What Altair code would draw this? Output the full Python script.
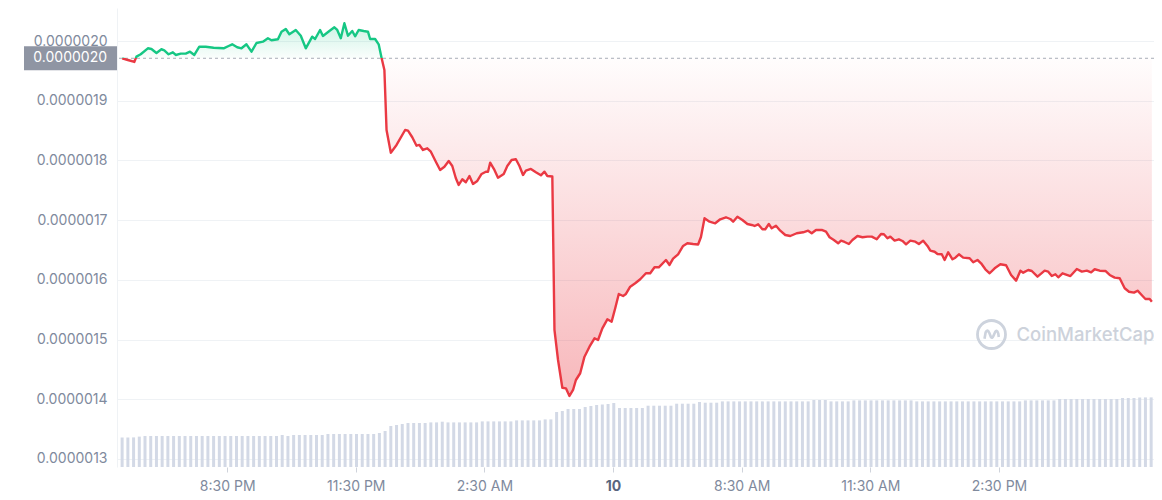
import json
import altair as alt
import pandas as pd

# ---------------- data ----------------
# Price line: minutes after 6:00 PM (local) and price in units of 1e-7 USD
PRICE_MIN = [
    3, 11, 20, 23, 29, 39, 44, 51, 58, 62, 68, 74, 78, 85, 92, 98, 104, 111, 120, 131,
    145, 152, 157, 164, 170, 177, 184, 191, 200, 207, 212, 221, 226, 232, 237, 246, 253, 260, 269, 273,
    280, 284, 293, 300, 304, 309, 314, 319, 325, 329, 334, 341, 347, 350, 357, 362, 366, 370,
    373, 379, 387, 399, 403, 409, 415, 419, 424, 430, 435, 442, 448, 454, 460, 465, 470, 474, 479, 484,
    489, 494, 500, 506, 512, 515, 518, 524, 529, 537, 542, 548, 554, 559, 564, 568, 575, 582, 589, 594,
    598, 605,
    608, 613, 619, 624, 629, 634, 638, 644, 650, 657, 664, 669, 675, 682, 688, 693, 698, 704, 708, 714,
    721, 728, 736, 742, 748, 754, 764, 769, 774, 781, 788, 794, 802, 809, 813, 818,
    825, 833, 840, 848, 854, 858, 864, 871, 878, 884, 888, 893, 899, 903, 908, 912, 918, 924, 931, 938,
    947, 956, 963, 968, 974, 982, 988, 993, 999, 1005, 1009, 1014, 1020, 1025, 1032, 1039, 1046, 1052, 1059, 1065,
    1069, 1074, 1078, 1084, 1090, 1095, 1100, 1106, 1113, 1118, 1124, 1130, 1134, 1140, 1144, 1150, 1154, 1159, 1165, 1169,
    1174, 1180, 1189, 1194, 1200, 1205, 1211, 1217, 1224, 1232, 1240, 1247, 1254, 1260, 1264, 1271, 1276, 1284, 1294, 1299,
    1304, 1309, 1313, 1319, 1330, 1339, 1346, 1353, 1359, 1364, 1371, 1379, 1385, 1392, 1399, 1406, 1412, 1419, 1424, 1431,
    1435, 1441, 1444,
]
PRICE_E7 = [
    19.71, 19.683, 19.650, 19.739, 19.779, 19.879, 19.868, 19.801, 19.863, 19.846,
    19.779, 19.812, 19.767, 19.789, 19.789, 19.822, 19.767, 19.906, 19.906, 19.889,
    19.879, 19.918, 19.946, 19.896, 19.879, 19.946, 19.822, 19.968, 19.990, 20.047,
    20.013, 20.030, 20.157, 20.203, 20.114, 20.186, 20.090, 19.879, 20.074, 20.035,
    20.186, 20.085, 20.169, 20.231, 20.186, 20.047, 20.298, 20.090, 20.169, 20.080,
    20.186, 20.169, 20.157, 20.035, 20.035, 19.946, 19.722, 19.516,
    18.511, 18.131, 18.260, 18.511, 18.499, 18.389, 18.248, 18.260, 18.176, 18.204,
    18.147, 17.980, 17.841, 17.896, 17.992, 17.908, 17.702, 17.590, 17.685, 17.635,
    17.740, 17.606, 17.657, 17.774, 17.812, 17.812, 17.963, 17.841, 17.712, 17.774,
    17.908, 18.008, 18.020, 17.908, 17.757, 17.829, 17.858, 17.802, 17.752, 17.812,
    17.740, 17.732,
    15.161, 14.658, 14.194, 14.184, 14.055, 14.156, 14.323, 14.436, 14.714, 14.881,
    15.022, 14.993, 15.189, 15.340, 15.300, 15.524, 15.764, 15.730, 15.764, 15.886,
    15.943, 16.010, 16.111, 16.111, 16.211, 16.211, 16.333, 16.250, 16.355, 16.429,
    16.568, 16.613, 16.601, 16.593, 16.719, 17.032,
    16.975, 16.948, 17.015, 17.049, 17.020, 16.975, 17.059, 17.003, 16.936, 16.920,
    16.903, 16.931, 16.848, 16.848, 16.936, 16.864, 16.908, 16.824, 16.752, 16.735,
    16.781, 16.797, 16.824, 16.781, 16.836, 16.836, 16.807, 16.714, 16.668, 16.613,
    16.657, 16.635, 16.601, 16.668, 16.735, 16.714, 16.724, 16.724, 16.680, 16.769,
    16.764, 16.697, 16.724, 16.657, 16.680, 16.652, 16.596, 16.657, 16.640, 16.601,
    16.657, 16.568, 16.489, 16.472, 16.434, 16.429, 16.333, 16.462, 16.345, 16.372,
    16.429, 16.372, 16.362, 16.295, 16.333, 16.278, 16.178, 16.111, 16.194, 16.261,
    16.245, 16.082, 15.987, 16.154, 16.121, 16.166, 16.149, 16.054, 16.154, 16.138,
    16.065, 16.094, 16.044, 16.111, 16.065, 16.183, 16.138, 16.154, 16.127, 16.178,
    16.154, 16.149, 16.082, 16.037, 16.027, 15.859, 15.802, 15.786, 15.819, 15.730,
    15.680, 15.680, 15.635,
]
BASE_E7 = 19.712  # reference price (dashed line)

# Volume bars: one every 8 minutes, arbitrary units
VOL_MIN = list(range(3, 1444, 8))
VOLUME = [
    295, 295, 296, 304,
    310, 310, 310, 310, 310, 310, 310, 310, 310, 310, 310, 310,
    310, 310, 310, 310, 310, 310, 310, 310, 310, 310, 310, 310,
    320, 310,
    320, 320, 320, 320, 320, 320,
    330, 330, 330, 330, 330, 330, 330, 330, 330,
    340, 360, 410, 420, 430,
    440, 440, 440, 440,
    446, 446, 453,
    446, 446, 446, 446, 446, 446,
    456, 456, 456, 456, 456, 456,
    466, 466, 466, 466, 466,
    476, 476, 550, 560,
    580, 580, 580,
    600, 610, 620, 625, 630, 640,
    590, 590, 590, 590, 590,
    613, 613, 613, 613, 613,
    633, 633, 633, 633,
    650, 643, 643, 643,
    656, 656, 656, 656, 656, 656, 656, 656, 656, 656, 656, 656, 656, 656, 656, 656,
    670, 670, 670,
    656, 656, 656, 656,
    666, 666, 666, 666, 666, 666, 666, 666, 666, 666, 666,
    656, 656, 656, 656, 656, 656, 656, 656, 656, 656, 656, 656, 656, 656, 656, 656, 656, 656, 656,
    666, 666, 666, 666, 666, 666,
    680, 680, 680, 680, 680, 680, 680, 680, 680, 680, 680,
    690, 690, 690,
    696, 696, 696,
]

TICK_MIN = [150, 330, 510, 690, 870, 1050, 1230]
TICK_LABELS = ["8:30 PM", "11:30 PM", "2:30 AM", "10", "8:30 AM", "11:30 AM", "2:30 PM"]
Y_TICKS_E7 = [13, 14, 15, 16, 17, 18, 19, 20]

assert len(PRICE_MIN) == len(PRICE_E7)
assert len(VOL_MIN) == len(VOLUME)

# ---------------- build tables ----------------
price = [v * 1e-7 for v in PRICE_E7]
base = BASE_E7 * 1e-7
y_ticks = [v * 1e-7 for v in Y_TICKS_E7]

df = pd.DataFrame({"min": PRICE_MIN, "price": price})
vol_df = pd.DataFrame({"min": VOL_MIN, "vol": VOLUME})
base_df = pd.DataFrame({"base": [base], "label": [f"{base:.7f}"]})
wm_df = pd.DataFrame({"t": ["CoinMarketCap"]})

pmax, pmin = max(price), min(price)
frac = (pmax - base) / (pmax - pmin)

GREEN = "#16c784"
RED = "#ea3943"
FONT = "Inter"

W, H = 1037, 459
xscale = alt.Scale(domain=[2.8, 1440], nice=False, zero=False)
yscale = alt.Scale(domain=[1.2866e-6, 2.0554e-6], nice=False, zero=False)

label_expr = f"{json.dumps(TICK_LABELS)}[indexof({json.dumps(TICK_MIN)}, datum.value)]"
x_axis = alt.Axis(
    values=TICK_MIN, labelExpr=label_expr, title=None, grid=False, domain=False,
    ticks=True, tickSize=5, tickColor="#cfd3db", tickWidth=1, labelPadding=7,
    labelFont=FONT, labelFontSize=14,
    labelColor={"condition": {"test": "datum.value == 690", "value": "#58667e"}, "value": "#808a9d"},
    labelFontWeight={"condition": {"test": "datum.value == 690", "value": "bold"}, "value": "normal"},
    zindex=0,
)
y_axis = alt.Axis(
    values=y_ticks, format=".7f", title=None, ticks=False, domain=True,
    domainColor="#eff2f5", grid=True, gridColor="#eff2f5", labelPadding=10,
    labelFont=FONT, labelFontSize=14, labelColor="#808a9d", zindex=0,
)

vol = alt.Chart(vol_df).mark_bar(width=3, color="#d3d9e6").encode(
    x=alt.X("min:Q", scale=xscale, axis=x_axis),
    y=alt.Y("vol:Q", scale=alt.Scale(domain=[0, 4590], nice=False, zero=True), axis=None),
)

area = alt.Chart(df).mark_area(
    fill=alt.Gradient(
        gradient="linear", x1=0, y1=0, x2=0, y2=1,
        stops=[
            alt.GradientStop(offset=0, color="rgba(22,199,132,0.22)"),
            alt.GradientStop(offset=frac, color="rgba(22,199,132,0.02)"),
            alt.GradientStop(offset=frac, color="rgba(234,57,67,0.01)"),
            alt.GradientStop(offset=1, color="rgba(234,57,67,0.36)"),
        ],
    ),
    line=False,
).encode(
    x=alt.X("min:Q", scale=xscale),
    y=alt.Y("price:Q", scale=yscale, axis=y_axis),
    y2=alt.datum(base),
)

base_rule = alt.Chart(base_df).mark_rule(strokeDash=[3, 3], color="#a7acb6", strokeWidth=1).encode(
    y=alt.Y("base:Q", scale=yscale),
)

line = alt.Chart(df).mark_line(
    strokeWidth=2.4,
    strokeJoin="round",
    stroke=alt.Gradient(
        gradient="linear", x1=0, y1=0, x2=0, y2=1,
        stops=[
            alt.GradientStop(offset=0, color=GREEN),
            alt.GradientStop(offset=frac, color=GREEN),
            alt.GradientStop(offset=frac, color=RED),
            alt.GradientStop(offset=1, color=RED),
        ],
    ),
).encode(
    x=alt.X("min:Q", scale=xscale),
    y=alt.Y("price:Q", scale=yscale),
)

box = alt.Chart(base_df).mark_rule(strokeWidth=24, color="#8f95a3", strokeCap="butt").encode(
    x=alt.value(-93), x2=alt.value(0), y=alt.Y("base:Q", scale=yscale),
)
box_text = alt.Chart(base_df).mark_text(
    align="right", baseline="middle", color="white", font=FONT, fontSize=14
).encode(
    x=alt.value(-10), y=alt.Y("base:Q", scale=yscale), text="label:N",
)

logo_ring = alt.Chart(wm_df).mark_point(
    shape="circle", size=784, filled=False, strokeWidth=2.8, color="#cdd3dd", opacity=1
).encode(x=alt.value(874.5), y=alt.value(326.5))
logo_wave = alt.Chart(wm_df).mark_point(
    shape="M-0.5,0.3 L-0.42,-0.15 Q-0.3,-0.42 -0.16,-0.12 L-0.04,0.18 Q0.06,0.32 0.16,0.06 L0.26,-0.18 Q0.38,-0.38 0.48,-0.08 L0.52,0.18",
    size=784, filled=False, strokeWidth=2.6, color="#cdd3dd", opacity=1,
).encode(x=alt.value(874.5), y=alt.value(326.5))
wm_text = alt.Chart(wm_df).mark_text(
    align="left", baseline="middle", font=FONT, fontSize=18.5, fontWeight=500, color="#cdd2db"
).encode(x=alt.value(899.5), y=alt.value(327), text="t:N")

price_layers = alt.layer(area, base_rule, line, box, box_text)

chart = alt.layer(vol, price_layers, logo_ring, logo_wave, wm_text).resolve_scale(
    y="independent"
).properties(
    width=W, height=H,
    padding={"left": 109, "top": 0, "right": 0, "bottom": 25},
    autosize=alt.AutoSizeParams(type="none"),
    background="white",
).configure_view(stroke=None)

chart.save("out.html", embed_options={"renderer": "svg", "actions": False})
